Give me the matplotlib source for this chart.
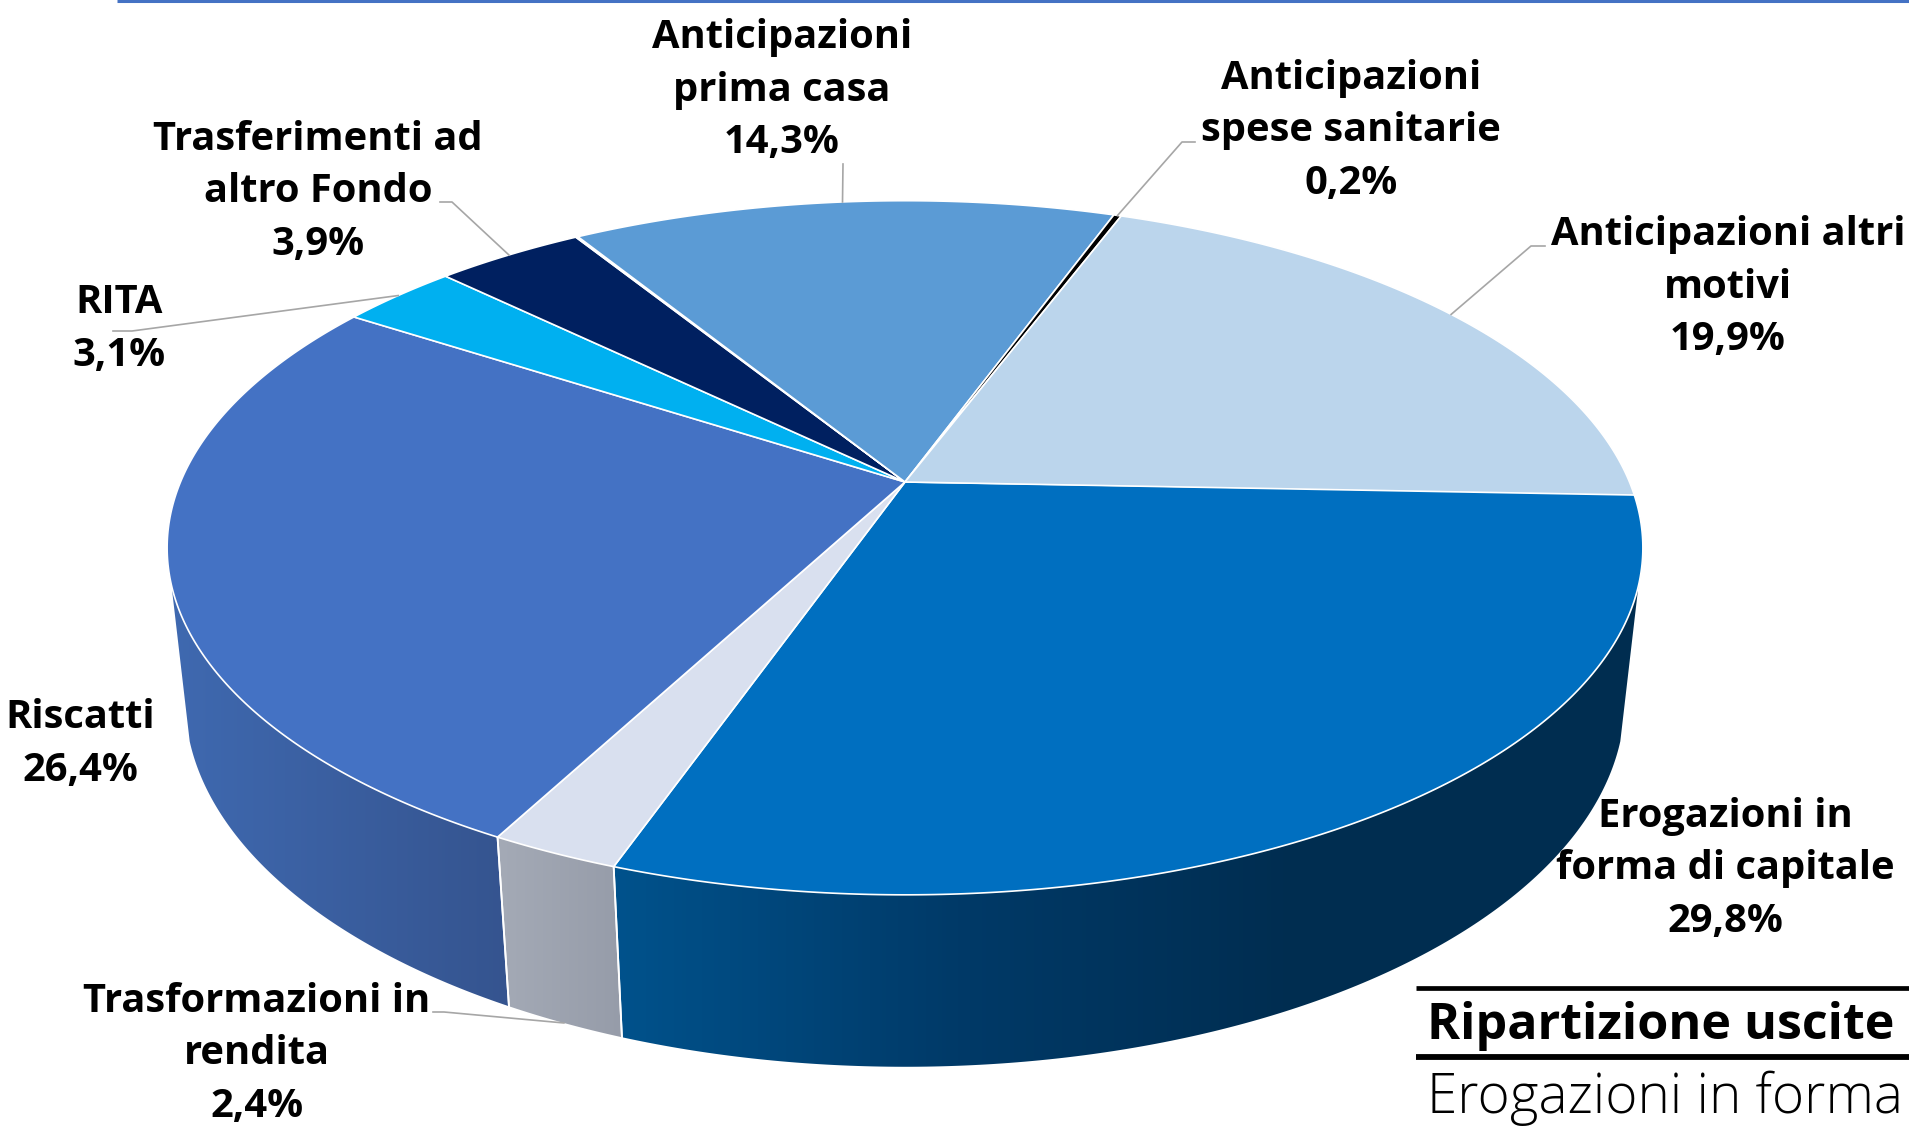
"""3D pie of the outflow breakdown, drawn in pixel coordinates of the slide crop."""
import matplotlib

matplotlib.use("Agg")
import matplotlib.pyplot as plt  # noqa: E402
import numpy as np  # noqa: E402
from matplotlib.colors import LinearSegmentedColormap  # noqa: E402
from matplotlib.patches import Polygon  # noqa: E402

plt.rcParams["font.family"] = ["Open Sans", "DejaVu Sans"]

# clockwise from the 3 o'clock edge; the unnamed one is the hairline slice in the source
names = ["Erogazioni in\nforma di capitale", "Trasformazioni in\nrendita", "Riscatti", "RITA",
         "Trasferimenti ad\naltro Fondo", "", "Anticipazioni\nprima casa",
         "Anticipazioni\nspese sanitarie", "Anticipazioni altri\nmotivi"]
shares = [29.8, 2.4, 26.4, 3.1, 3.9, 0.06, 14.3, 0.2, 19.9]
top_colors = ["#006FC0", "#D9E0EF", "#4472C4", "#00B0F0", "#002060", "#3B5563",
              "#5B9BD5", "#000000", "#BBD5EC"]
side_stops = [["#00528C", "#003A68", "#002D50", "#002D50"], ["#A4AAB6", "#969CA9"],
              ["#3F69B0", "#35548F"], ["#888888"], ["#888888"], ["#888888"],
              ["#888888"], ["#888888"], ["#888888"]]
table_title = "Ripartizione uscite"
table_row = "Erogazioni in forma"

# label block centre and leader elbow, None = no leader
label_pos = [(1725, 869), (257, 1054), (80, 744), (119, 329), (318, 192), None,
             (782, 90), (1351, 131), (1728, 287)]
leader_from = [None, [(433, 1012), (444, 1012)], None, [(113, 331), (132, 331)],
               [(440, 202), (452, 202)], None, [(843, 164)],
               [(1195, 142), (1182, 142)], [(1545, 246), (1531, 246)]]

START_DEG = 2.0
SIDE_RANGE = (17.0, 163.0)  # part of the rim facing the viewer
CX, CY = 905.0, 482.0
A, B, K = 724.5, 334.6, -0.1895
DROP, M = 153.4, 0.024


def project(theta_deg, lower=False):
    t = np.radians(theta_deg)
    u, v = np.cos(t), np.sin(t)
    den = 1 + K * v + (M if lower else 0)
    return CX + A * u / den, CY + (B * v + (DROP if lower else 0)) / den


def arc(a0, a1, lower=False):
    th = np.linspace(a0, a1, max(int(abs(a1 - a0) * 2), 2))
    return np.column_stack(project(th, lower))


fig = plt.figure(figsize=(19.09, 11.27), dpi=100)
ax = fig.add_axes([0, 0, 1, 1])
ax.axis("off")

ax.plot([117, 1909], [1, 1], color="#4472C4", lw=2.2, solid_capstyle="butt")

edges = START_DEG + np.concatenate([[0], np.cumsum(shares)]) * 3.6

# rim first, disc on top
for i, stops in enumerate(side_stops):
    a0, a1 = max(edges[i], SIDE_RANGE[0]), min(edges[i + 1], SIDE_RANGE[1])
    if a0 >= a1:
        continue
    pts = np.vstack([arc(a0, a1), arc(a1, a0, lower=True)])
    patch = Polygon(pts, closed=True, facecolor="none", edgecolor="none")
    ax.add_patch(patch)
    cmap = LinearSegmentedColormap.from_list(f"side{i}", stops)
    im = ax.imshow(np.linspace(0, 1, 256)[None, :], cmap=cmap, aspect="auto",
                   extent=[pts[:, 0].min(), pts[:, 0].max(), pts[:, 1].max(), pts[:, 1].min()],
                   zorder=2)
    im.set_clip_path(patch)
    for a in (a0, a1):
        if SIDE_RANGE[0] < a < SIDE_RANGE[1]:
            xa, ya = project(a)
            xb, yb = project(a, lower=True)
            ax.plot([xa, xb], [ya, yb], color="white", lw=1.3, zorder=3)
ax.set_xlim(0, 1909)
ax.set_ylim(1127, 0)

for i, color in enumerate(top_colors):
    pts = np.vstack([[CX, CY], arc(edges[i], edges[i + 1])])
    ax.add_patch(Polygon(pts, closed=True, facecolor=color, edgecolor="white", lw=1.2,
                         joinstyle="round", zorder=4))

# leaders end on the rim at the middle of their slice
for i, elbow in enumerate(leader_from):
    if elbow is None:
        continue
    mid = (edges[i] + edges[i + 1]) / 2
    end = project(mid, lower=SIDE_RANGE[0] < mid < SIDE_RANGE[1])
    xs, ys = zip(*elbow, end)
    ax.plot(xs, ys, color="#A6A6A6", lw=1.2, zorder=5)

for name, share, pos in zip(names, shares, label_pos):
    if pos is None:
        continue
    txt = f"{name}\n{share:.1f}%".replace(".", ",")
    ax.text(pos[0], pos[1], txt, ha="center", va="center", fontsize=28.7, fontweight="bold",
            color="black", linespacing=1.44, zorder=6)

ax.plot([1416, 1909], [988, 988], color="black", lw=3.4, solid_capstyle="butt")
ax.plot([1416, 1909], [1057, 1057], color="black", lw=4.2, solid_capstyle="butt")
ax.text(1427, 1039, table_title, ha="left", va="baseline", fontsize=36.2, fontweight="bold",
        color="black")
ax.text(1427, 1113, table_row, ha="left", va="baseline", fontsize=39.5, fontweight="light",
        color="black")

fig.savefig("out.png", dpi=100)
